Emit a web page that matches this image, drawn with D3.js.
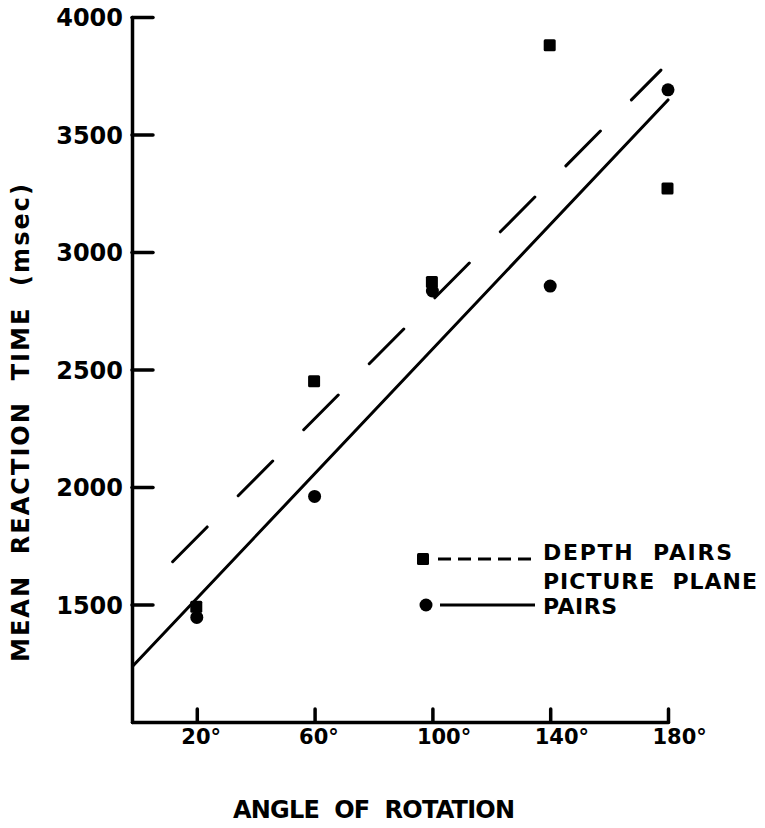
<!DOCTYPE html>
<html><head><meta charset="utf-8">
<script src="https://cdn.jsdelivr.net/npm/d3@7"></script>
<style>body{margin:0;background:#fff} text{font-family:"DejaVu Sans",sans-serif;font-weight:bold;fill:#000;white-space:pre}</style>
</head><body><svg id="c" width="765" height="828"></svg>
<script>
const angles = [20, 60, 100, 140, 180];
const depthRT = [1490, 2450, 2872, 3880, 3270];
const pictureRT = [1445, 1960, 2834, 2855, 3690];
const depthFit = [[11.8, 1682], [177.6, 3774]];
const pictureFit = [[-1.7, 1238], [180, 3647]];
const yTicks = [1500, 2000, 2500, 3000, 3500, 4000];
const xTicks = [20, 60, 100, 140, 180];
const xTickLabels = ["20°", "60°", "100°", "140°", "180°"];
const yTitle = "MEAN  REACTION  TIME  (msec)";
const xTitle = "ANGLE  OF  ROTATION";
const legendLabels = ["DEPTH  PAIRS", "PICTURE  PLANE", "PAIRS"];

const svg = d3.select("#c");
svg.append("rect").attr("width", 765).attr("height", 828).attr("fill", "#fff");

const x = d3.scaleLinear().domain([-2, 180]).range([132, 668]);
const y = d3.scaleLinear().domain([1000, 4000]).range([722, 17]);

// Y axis
const gy = svg.append("g").attr("transform", "translate(132,0)")
  .call(d3.axisLeft(y).tickValues(yTicks).tickSize(-21).tickSizeOuter(0).tickPadding(9).tickFormat(d3.format("d")));
gy.select(".domain").attr("stroke", "#000").attr("stroke-width", 3.5).attr("stroke-linecap", "round");
gy.selectAll(".tick line").attr("stroke", "#000").attr("stroke-width", 3.5).attr("stroke-linecap", "round");
gy.selectAll(".tick text").attr("font-size", 24).attr("font-family", null).attr("x", -9).attr("dy", "0.36em");
gy.attr("font-family", null);

// X axis
const gx = svg.append("g").attr("transform", "translate(0,722)")
  .call(d3.axisBottom(x).tickValues(xTicks).tickSize(-13).tickSizeOuter(0).tickPadding(8)
    .tickFormat((d, i) => xTickLabels[i]));
gx.select(".domain").attr("stroke", "#000").attr("stroke-width", 3.5).attr("stroke-linecap", "round");
gx.selectAll(".tick line").attr("stroke", "#000").attr("stroke-width", 3.5).attr("stroke-linecap", "round");
gx.selectAll(".tick text").attr("font-size", 21).attr("text-anchor", "start").attr("x", -16).attr("y", 7).attr("dy", "0.71em");
gx.attr("font-family", null);

// fit lines
const line = d3.line().x(d => x(d[0])).y(d => y(d[1]));
svg.append("path").attr("d", line(depthFit)).attr("fill", "none").attr("stroke", "#000")
  .attr("stroke-width", 3).attr("stroke-dasharray", "49,44").attr("stroke-linecap", "round");
svg.append("path").attr("d", line(pictureFit)).attr("fill", "none").attr("stroke", "#000")
  .attr("stroke-width", 3).attr("stroke-linecap", "round");

// points
const depthPts = angles.map((a, i) => [a, depthRT[i]]);
const picPts = angles.map((a, i) => [a, pictureRT[i]]);
svg.selectAll(".sq").data(depthPts).enter().append("rect")
  .attr("x", d => x(d[0]) - 6.5).attr("y", d => y(d[1]) - 6).attr("width", 12).attr("height", 12)
  .attr("rx", 1.5).attr("fill", "#000");
svg.selectAll(".ci").data(picPts).enter().append("circle")
  .attr("cx", d => x(d[0])).attr("cy", d => y(d[1])).attr("r", 6.5).attr("fill", "#000");

// legend
svg.append("rect").attr("x", 417).attr("y", 553).attr("width", 12).attr("height", 12).attr("rx", 1.5).attr("fill", "#000");
svg.append("line").attr("x1", 438).attr("x2", 532).attr("y1", 559).attr("y2", 559)
  .attr("stroke", "#000").attr("stroke-width", 3).attr("stroke-dasharray", "13,7");
svg.append("circle").attr("cx", 426).attr("cy", 605).attr("r", 6.5).attr("fill", "#000");
svg.append("line").attr("x1", 440).attr("x2", 535).attr("y1", 605).attr("y2", 605)
  .attr("stroke", "#000").attr("stroke-width", 3);
svg.append("text").attr("x", 543).attr("y", 560).attr("font-size", 22).attr("textLength", 189).attr("lengthAdjust", "spacing").text(legendLabels[0]);
svg.append("text").attr("x", 543).attr("y", 589).attr("font-size", 22).attr("textLength", 214).attr("lengthAdjust", "spacing").text(legendLabels[1]);
svg.append("text").attr("x", 543).attr("y", 614).attr("font-size", 22).attr("textLength", 74).attr("lengthAdjust", "spacing").text(legendLabels[2]);

// titles
svg.append("text").attr("x", 374).attr("y", 818).attr("text-anchor", "middle").attr("font-size", 24)
  .attr("textLength", 282).attr("lengthAdjust", "spacing").text(xTitle);
svg.append("text").attr("transform", "translate(29,423) rotate(-90)").attr("text-anchor", "middle").attr("font-size", 24)
  .attr("textLength", 478).attr("lengthAdjust", "spacing").text(yTitle);
</script></body></html>
